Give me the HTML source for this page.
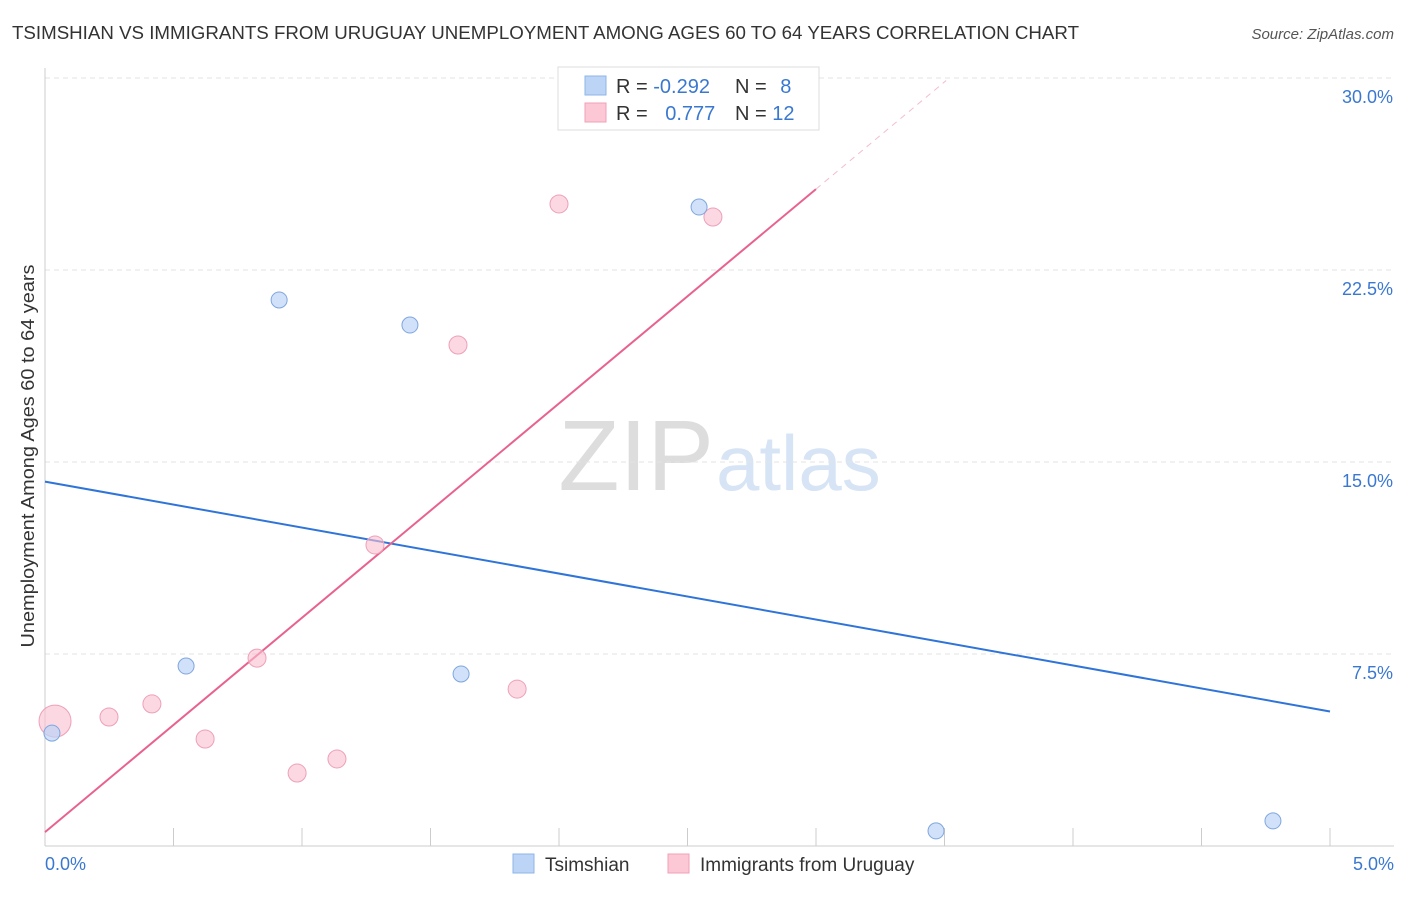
<!DOCTYPE html>
<html><head><meta charset="utf-8"><style>
body{margin:0;background:#fff;font-family:"Liberation Sans",sans-serif;}
svg text{font-family:"Liberation Sans",sans-serif;}
</style></head><body>
<svg width="1406" height="892" viewBox="0 0 1406 892" xmlns="http://www.w3.org/2000/svg">
<text x="12" y="39" font-size="18" fill="#333" textLength="1067" lengthAdjust="spacingAndGlyphs">TSIMSHIAN VS IMMIGRANTS FROM URUGUAY UNEMPLOYMENT AMONG AGES 60 TO 64 YEARS CORRELATION CHART</text>
<text x="1394" y="39" font-size="15" fill="#555" font-style="italic" text-anchor="end">Source: ZipAtlas.com</text>
<text x="714" y="490" font-size="100" fill="#ddd" text-anchor="end" font-family="Liberation Serif">ZIP</text>
<text x="716" y="490" font-size="78" fill="#d6e4f5">atlas</text>
<g id="grid"></g>
<line x1="45" y1="68" x2="45" y2="846" stroke="#ccc"/>
<line x1="45" y1="846" x2="1394" y2="846" stroke="#ccc"/>
<text transform="translate(34,456) rotate(-90)" font-size="18" fill="#333" text-anchor="middle" textLength="383" lengthAdjust="spacingAndGlyphs">Unemployment Among Ages 60 to 64 years</text>
<text x="45" y="870" font-size="18" fill="#3a78d0">0.0%</text>
<text x="1394" y="870" font-size="18" fill="#3a78d0" text-anchor="end">5.0%</text>
<g id="lines"></g><g id="pts"></g>
<g>
<rect x="558" y="67" width="261" height="63" fill="#fff" stroke="#ddd"/>
<rect x="585" y="76" width="21" height="19" fill="#bcd4f6" stroke="#8fb4ea"/>
<rect x="585" y="103" width="21" height="19" fill="#fcc8d6" stroke="#f0a0b8"/>
<text x="616" y="93" font-size="20" fill="#333">R = <tspan fill="#3a78d0">-0.292</tspan></text>
<text x="735" y="93" font-size="20" fill="#333">N = <tspan fill="#3a78d0" dx="8">8</tspan></text>
<text x="616" y="120" font-size="20" fill="#333">R = <tspan fill="#3a78d0" dx="12">0.777</tspan></text>
<text x="735" y="120" font-size="20" fill="#333">N = <tspan fill="#3a78d0">12</tspan></text>
</g>
<g>
<rect x="513" y="854" width="21" height="19" fill="#bcd4f6" stroke="#8fb4ea"/>
<text x="545" y="871" font-size="19" fill="#333">Tsimshian</text>
<rect x="668" y="854" width="21" height="19" fill="#fcc8d6" stroke="#f0a0b8"/>
<text x="700" y="871" font-size="19" fill="#333">Immigrants from Uruguay</text>
</g>
</svg>
<script>
const yTicks=[7.5,15,22.5,30];
const yTickLabels=["7.5%","15.0%","22.5%","30.0%"];
const blueX=[0.027,0.549,0.911,1.42,1.619,2.545,3.467,4.778];
const blueY=[4.41,7.03,21.33,20.35,6.72,24.96,0.59,0.98];
const pinkX=[0.039,0.249,0.416,0.623,0.825,0.981,1.136,1.284,1.607,1.837,2.0,2.599];
const pinkY=[4.88,5.04,5.55,4.18,7.34,2.85,3.40,11.76,19.57,6.13,25.08,24.57];
const pinkR=[16,9,9,9,9,9,9,9,9,9,9,9];
const NS="http://www.w3.org/2000/svg";
const sx=v=>45+v/5*1285, sy=v=>846-v*25.6;
function mk(t,a,p){const e=document.createElementNS(NS,t);for(const k in a)e.setAttribute(k,a[k]);p.appendChild(e);return e;}
const grid=document.getElementById('grid');
yTicks.forEach((t,i)=>{
 const l=mk('line',{x1:45,x2:1394,y1:sy(t),y2:sy(t),stroke:'#e3e3e3','stroke-dasharray':'5,4'},grid);
 
 
 const tx=mk('text',{x:1393,y:sy(t)+25,'font-size':18,fill:'#3a78d0','text-anchor':'end'},grid);
 tx.textContent=yTickLabels[i];
 
 
});
for(let i=0;i<=10;i++){
 const l=mk('line',{x1:sx(i*0.5),x2:sx(i*0.5),y1:828,y2:846,stroke:'#ccc'},grid);
 
 
}
function reg(xs,ys){const n=xs.length;let mx=0,my=0;xs.forEach((x,i)=>{mx+=x;my+=ys[i];});mx/=n;my/=n;let sxy=0,sxx=0;xs.forEach((x,i)=>{sxy+=(x-mx)*(ys[i]-my);sxx+=(x-mx)**2;});const b=sxy/sxx;return [my-b*mx,b];}
const lines=document.getElementById('lines');
const [ba,bb]=reg(blueX,blueY);
const bl=mk('line',{x1:sx(0),y1:sy(ba),x2:sx(5),y2:sy(ba+bb*5),stroke:'#2f74d8','stroke-width':2},lines);


const [pa,pb]=reg(pinkX,pinkY);
const xEnd=3.0, xMax=(29.9-pa)/pb;
const pl=mk('line',{x1:sx(0),y1:sy(pa),x2:sx(xEnd),y2:sy(pa+pb*xEnd),stroke:'#e8628e','stroke-width':2},lines);


const pd=mk('line',{x1:sx(xEnd),y1:sy(pa+pb*xEnd),x2:sx(xMax),y2:sy(pa+pb*xMax),stroke:'#f4bccd','stroke-width':1,'stroke-dasharray':'6,5'},lines);


const pts=document.getElementById('pts');
pinkX.forEach((x,i)=>{const c=mk('circle',{cx:sx(x),cy:sy(pinkY[i]),r:pinkR[i],fill:'rgba(250,190,208,0.6)',stroke:'#eea0b8'},pts);
 
 });
blueX.forEach((x,i)=>{const c=mk('circle',{cx:sx(x),cy:sy(blueY[i]),r:8,fill:'rgba(188,212,246,0.7)',stroke:'#7fa6de'},pts);
 
 });
</script>
</body></html>
